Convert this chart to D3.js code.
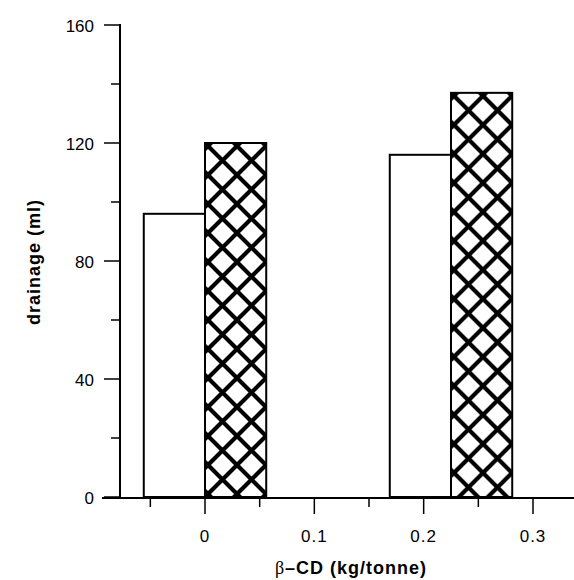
<!DOCTYPE html>
<html><head><meta charset="utf-8">
<script src="https://cdn.jsdelivr.net/npm/d3@7"></script>
<style>
html,body{margin:0;padding:0;background:#fff;}
svg{display:block;}
text{font-family:"Liberation Sans",Arial,sans-serif;fill:#000;}
</style></head>
<body>
<svg id="chart" width="574" height="580"></svg>
<script>
// ---- data ----
const groupX = [0, 0.225];          // β-CD (kg/tonne), boundary between paired bars
const openValues = [96, 116];       // open (white) bars, drainage (ml)
const hatchValues = [120, 137];     // cross-hatched bars, drainage (ml)
const barWidth = 0.056;             // in x units
const xMajorTicks = [0, 0.1, 0.2, 0.3];
const xMinorTicks = [-0.05, 0.05, 0.15, 0.25];
const yMajorTicks = [0, 40, 80, 120, 160];
const yMinorTicks = [20, 60, 100, 140];
const xTitle = ["β", "–CD (kg/tonne)"];
const yTitle = "drainage (ml)";

const svg = d3.select("#chart");
const x = d3.scaleLinear().domain([0, 0.3]).range([205, 533]);
const y = d3.scaleLinear().domain([0, 160]).range([497, 25]);
const axisX = 120, axisY = y(0) + 1;

// patterns (one per hatched bar, aligned to bar)
const defs = svg.append("defs");
const P = 29;
hatchValues.forEach((v, i) => {
  const left = x(groupX[i]);
  const pat = defs.append("pattern")
    .attr("id", "hatch" + i)
    .attr("patternUnits", "userSpaceOnUse")
    .attr("x", left + 3).attr("y", y(v) + 3)
    .attr("width", P).attr("height", P);
  pat.append("rect").attr("width", P).attr("height", P).attr("fill", "#fff");
  pat.append("path")
    .attr("d", `M${-P/2},${P/2} L${P/2},${-P/2} M0,${P} L${P},0 M${P/2},${1.5*P} L${1.5*P},${P/2}
                M${-P/2},${P/2} L${P/2},${1.5*P} M0,0 L${P},${P} M${P/2},${-P/2} L${1.5*P},${P/2}`)
    .attr("stroke", "#000").attr("stroke-width", 4.2).attr("fill", "none");
});

// open bars
svg.append("g").selectAll("rect").data(openValues).join("rect")
  .attr("x", (d, i) => x(groupX[i] - barWidth))
  .attr("width", (d, i) => x(groupX[i]) - x(groupX[i] - barWidth))
  .attr("y", d => y(d))
  .attr("height", d => y(0) - y(d))
  .attr("fill", "#fff").attr("stroke", "#000").attr("stroke-width", 2);

// hatched bars
svg.append("g").selectAll("rect").data(hatchValues).join("rect")
  .attr("x", (d, i) => x(groupX[i]))
  .attr("width", (d, i) => x(groupX[i] + barWidth) - x(groupX[i]))
  .attr("y", d => y(d))
  .attr("height", d => y(0) - y(d))
  .attr("fill", (d, i) => `url(#hatch${i})`).attr("stroke", "#000").attr("stroke-width", 2);

// y axis
const ga = svg.append("g").attr("stroke", "#000");
ga.append("line").attr("x1", axisX).attr("x2", axisX).attr("y1", y(160) - 1).attr("y2", axisY)
  .attr("stroke-width", 2);
ga.selectAll(".ymaj").data(yMajorTicks).join("line")
  .attr("x1", axisX - 16).attr("x2", axisX).attr("y1", d => y(d)).attr("y2", d => y(d))
  .attr("stroke-width", 1.5);
ga.selectAll(".ymin").data(yMinorTicks).join("line").attr("class", "ymin")
  .attr("x1", axisX - 9).attr("x2", axisX).attr("y1", d => y(d)).attr("y2", d => y(d))
  .attr("stroke-width", 1.5);
svg.append("g").selectAll("text").data(yMajorTicks).join("text")
  .attr("x", 94).attr("y", d => y(d) + 6.5)
  .attr("text-anchor", "end").attr("font-size", 17)
  .text(d => d);

// x axis
ga.append("line").attr("x1", 102).attr("x2", 574).attr("y1", axisY).attr("y2", axisY)
  .attr("stroke-width", 2);
ga.selectAll(".xmaj").data(xMajorTicks).join("line").attr("class", "xmaj")
  .attr("x1", d => x(d)).attr("x2", d => x(d)).attr("y1", axisY).attr("y2", axisY + 16)
  .attr("stroke-width", 1.5);
ga.selectAll(".xmin").data(xMinorTicks).join("line").attr("class", "xmin")
  .attr("x1", d => x(d)).attr("x2", d => x(d)).attr("y1", axisY).attr("y2", axisY + 9)
  .attr("stroke-width", 1.5);
svg.append("g").selectAll("text").data(xMajorTicks).join("text")
  .attr("x", d => x(d)).attr("y", 542)
  .attr("text-anchor", "middle").attr("font-size", 17).attr("letter-spacing", 1)
  .text(d => d === 0 ? "0" : d3.format(".1f")(d));

// titles
const xt = svg.append("text").attr("x", 351).attr("y", 574)
  .attr("text-anchor", "middle").attr("font-size", 18).attr("letter-spacing", 1);
xt.append("tspan").attr("font-family", "'Liberation Serif',serif").attr("font-weight", "normal").text(xTitle[0]);
xt.append("tspan").attr("font-weight", "bold").text(xTitle[1]);

svg.append("text").attr("transform", "translate(40,262) rotate(-90)")
  .attr("text-anchor", "middle").attr("font-size", 18).attr("font-weight", "bold")
  .attr("letter-spacing", 1).text(yTitle);
</script>
</body></html>
